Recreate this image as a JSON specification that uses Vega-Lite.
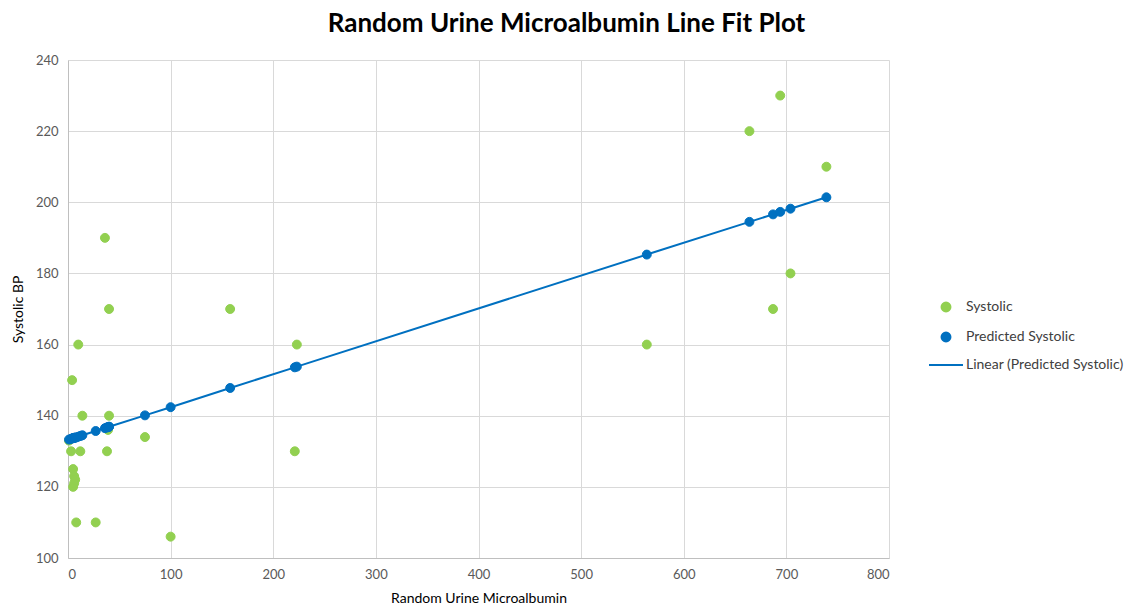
{
  "$schema": "https://vega.github.io/schema/vega-lite/v6.json",
  "width": 821,
  "height": 498,
  "autosize": {"type": "none"},
  "padding": {"left": 68, "top": 60, "right": 243, "bottom": 49},
  "background": "white",
  "title": {
    "text": "Random Urine Microalbumin Line Fit Plot",
    "anchor": "middle",
    "dx": 88,
    "offset": 17,
    "font": "Lato",
    "fontSize": 26,
    "fontWeight": "bold",
    "color": "#000000"
  },
  "data": {
    "values": [
      {"x": 1, "Systolic": 133, "Predicted Systolic": 133.3},
      {"x": 3, "Systolic": 130, "Predicted Systolic": 133.5},
      {"x": 4, "Systolic": 150, "Predicted Systolic": 133.6},
      {"x": 5, "Systolic": 125, "Predicted Systolic": 133.7},
      {"x": 5, "Systolic": 120, "Predicted Systolic": 133.7},
      {"x": 6, "Systolic": 123, "Predicted Systolic": 133.8},
      {"x": 6, "Systolic": 121, "Predicted Systolic": 133.8},
      {"x": 7, "Systolic": 122, "Predicted Systolic": 133.8},
      {"x": 8, "Systolic": 110, "Predicted Systolic": 133.9},
      {"x": 10, "Systolic": 160, "Predicted Systolic": 134.1},
      {"x": 12, "Systolic": 130, "Predicted Systolic": 134.3},
      {"x": 14, "Systolic": 140, "Predicted Systolic": 134.5},
      {"x": 27, "Systolic": 110, "Predicted Systolic": 135.7},
      {"x": 36, "Systolic": 190, "Predicted Systolic": 136.5},
      {"x": 38, "Systolic": 130, "Predicted Systolic": 136.7},
      {"x": 39, "Systolic": 136, "Predicted Systolic": 136.8},
      {"x": 40, "Systolic": 170, "Predicted Systolic": 136.9},
      {"x": 40, "Systolic": 140, "Predicted Systolic": 136.9},
      {"x": 75, "Systolic": 134, "Predicted Systolic": 140.1},
      {"x": 100, "Systolic": 106, "Predicted Systolic": 142.4},
      {"x": 158, "Systolic": 170, "Predicted Systolic": 147.8},
      {"x": 221, "Systolic": 130, "Predicted Systolic": 153.6},
      {"x": 223, "Systolic": 160, "Predicted Systolic": 153.8},
      {"x": 564, "Systolic": 160, "Predicted Systolic": 185.3},
      {"x": 664, "Systolic": 220, "Predicted Systolic": 194.5},
      {"x": 687, "Systolic": 170, "Predicted Systolic": 196.6},
      {"x": 694, "Systolic": 230, "Predicted Systolic": 197.3},
      {"x": 704, "Systolic": 180, "Predicted Systolic": 198.2},
      {"x": 739, "Systolic": 210, "Predicted Systolic": 201.4}
    ]
  },
  "layer": [
    {
      "mark": {"type": "line", "color": "#0070C0", "strokeWidth": 2},
      "encoding": {
        "x": {"field": "x", "type": "quantitative"},
        "y": {"field": "Predicted Systolic", "type": "quantitative"}
      }
    },
    {
      "transform": [
        {"fold": ["Systolic", "Predicted Systolic"], "as": ["series", "value"]}
      ],
      "mark": {"type": "point", "filled": false, "opacity": 1, "strokeWidth": 1, "size": 80},
      "encoding": {
        "x": {
          "field": "x",
          "type": "quantitative",
          "scale": {"domain": [0, 800], "nice": false},
          "axis": {
            "title": "Random Urine Microalbumin",
            "values": [0, 100, 200, 300, 400, 500, 600, 700, 800],
            "labelPadding": 10,
            "titlePadding": 10
          }
        },
        "y": {
          "field": "value",
          "type": "quantitative",
          "scale": {"domain": [100, 240], "nice": false, "zero": false},
          "axis": {
            "title": "Systolic BP",
            "values": [100, 120, 140, 160, 180, 200, 220, 240],
            "labelPadding": 10,
            "titlePadding": 10
          }
        },
        "color": {
          "field": "series",
          "type": "nominal",
          "scale": {
            "domain": ["Systolic", "Predicted Systolic", "Linear (Predicted Systolic)"],
            "range": ["#92D050", "#0070C0", "#0070C0"]
          },
          "legend": {
            "title": null,
            "orient": "none",
            "legendX": 871,
            "legendY": 240,
            "labelFont": "Lato",
            "labelFontSize": 14,
            "labelColor": "#404040",
            "rowPadding": 12,
            "labelOffset": 13,
            "symbolSize": 80,
            "symbolStrokeWidth": 2
          }
        },
        "fill": {
          "field": "series",
          "type": "nominal",
          "scale": {
            "domain": ["Systolic", "Predicted Systolic", "Linear (Predicted Systolic)"],
            "range": ["#92D050", "#0070C0", "#0070C0"]
          }
        },
        "shape": {
          "field": "series",
          "type": "nominal",
          "scale": {
            "domain": ["Systolic", "Predicted Systolic", "Linear (Predicted Systolic)"],
            "range": ["circle", "circle", "M -3.8 0 L 3.8 0"]
          }
        },
        "order": {"field": "series", "sort": "descending"}
      }
    }
  ],
  "config": {
    "view": {"stroke": null},
    "axis": {
      "grid": true,
      "gridColor": "#d9d9d9",
      "gridWidth": 1,
      "domainColor": "#bfbfbf",
      "ticks": false,
      "labelFont": "Lato",
      "labelFontSize": 13,
      "labelColor": "#595959",
      "titleFont": "Lato",
      "titleFontSize": 14,
      "titleFontWeight": "normal",
      "titleColor": "#000000"
    }
  }
}
